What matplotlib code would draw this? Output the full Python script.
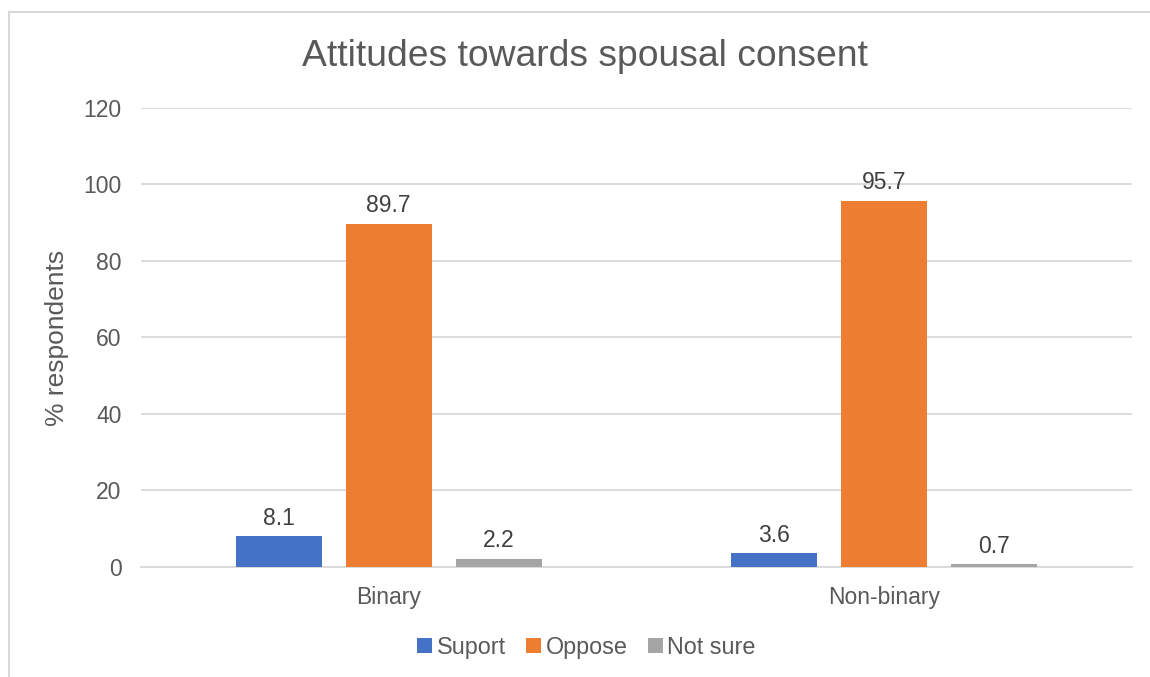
import matplotlib
matplotlib.use("Agg")
import matplotlib.pyplot as plt
import numpy as np

plt.rcParams['font.family'] = ['Liberation Sans', 'DejaVu Sans']

groups = ["Binary", "Non-binary"]
series = ["Suport", "Oppose", "Not sure"]
support = [8.1, 3.6]
oppose = [89.7, 95.7]
not_sure = [2.2, 0.7]
colors = ["#4472C4", "#ED7D31", "#A5A5A5"]
yticks = [0, 20, 40, 60, 80, 100, 120]

fig = plt.figure(figsize=(11.5, 6.77), dpi=100)
ax = fig.add_axes([0.1226, 0.1625, 0.8617, 0.678])

x = np.arange(len(groups))
width = 0.1736
offset = 0.222
for i, (vals, name, col) in enumerate(zip([support, oppose, not_sure], series, colors)):
    pos = x + (i - 1) * offset
    bars = ax.bar(pos, vals, width, color=col, label=name, zorder=3)
    for b, v in zip(bars, vals):
        ax.text(b.get_x() + b.get_width() / 2, v + 1.7, f"{v}", ha="center", va="bottom",
                fontsize=16.5, color="#404040")

ax.set_xlim(-0.5, 1.5)
ax.set_ylim(0, 120)
ax.set_yticks(yticks)
ax.set_xticks(x)
ax.set_xticklabels(groups)
ax.grid(axis="y", color="#D9D9D9", linewidth=1.3, zorder=0)
for s in ["top", "right", "left"]:
    ax.spines[s].set_visible(False)
ax.spines["bottom"].set_color("#D9D9D9")
ax.spines["bottom"].set_linewidth(1.3)
ax.tick_params(axis="both", length=0, labelsize=16.5, labelcolor="#595959")
ax.tick_params(axis="y", pad=14)
ax.tick_params(axis="x", pad=14)
ax.set_ylabel("% respondents", fontsize=19, color="#595959", labelpad=10)

fig.text(0.5087, 0.916, "Attitudes towards spousal consent", ha="center", va="center",
         fontsize=26.8, color="#595959")

leg = fig.legend(loc="center", bbox_to_anchor=(0.51, 0.044), ncol=3, frameon=False,
                 fontsize=16.8, handlelength=0.65, handleheight=0.65, handletextpad=0.2,
                 columnspacing=0.85, labelcolor="#595959")

# chart frame
fig.add_artist(plt.Line2D([0.0075, 0.0075], [0, 0.982], transform=fig.transFigure,
                          color="#D9D9D9", linewidth=1.5))
fig.add_artist(plt.Line2D([0.0075, 1.0], [0.982, 0.982], transform=fig.transFigure,
                          color="#D9D9D9", linewidth=1.5))

fig.savefig("out.png", dpi=100)
